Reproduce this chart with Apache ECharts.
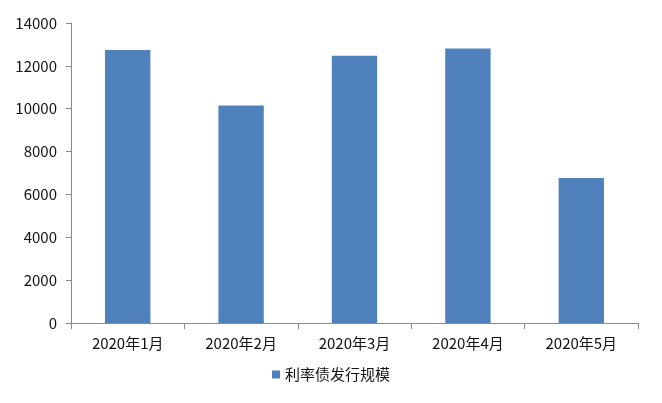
<!DOCTYPE html>
<html><head><meta charset="utf-8">
<script src="https://cdn.jsdelivr.net/npm/echarts@6/dist/echarts.min.js"></script>
<style>html,body{margin:0;padding:0;background:#fff}#c{width:662px;height:403px}</style>
</head><body><div id="c"></div>
<script>
const categories = ['2020年1月','2020年2月','2020年3月','2020年4月','2020年5月'];
const seriesName = '利率债发行规模';
const values = [12740, 10150, 12470, 12810, 6770];
const yTicks = {min: 0, max: 14000, interval: 2000};

const font = '"Noto Sans CJK SC", "Liberation Sans", sans-serif';
const chart = echarts.init(document.getElementById('c'), null, {renderer: 'canvas'});
chart.setOption({
  animation: false,
  backgroundColor: '#fff',
  textStyle: {fontFamily: font},
  grid: {left: 71, right: 24, top: 23, bottom: 80},
  legend: {
    data: [seriesName], bottom: 16, left: 'center',
    icon: 'rect', itemWidth: 8, itemHeight: 8, itemGap: 4,
    textStyle: {fontSize: 15, color: '#111', fontFamily: font}
  },
  xAxis: {
    type: 'category', data: categories,
    axisLine: {lineStyle: {color: '#8a8a8a', width: 1}},
    axisTick: {show: true, length: 6, lineStyle: {color: '#8a8a8a'}},
    axisLabel: {fontSize: 15, color: '#111', margin: 13, fontFamily: font}
  },
  yAxis: {
    type: 'value', min: yTicks.min, max: yTicks.max, interval: yTicks.interval,
    axisLine: {show: true, lineStyle: {color: '#8a8a8a', width: 1}},
    axisTick: {show: true, length: 5, lineStyle: {color: '#8a8a8a'}},
    splitLine: {show: false},
    axisLabel: {fontSize: 15, color: '#111', margin: 14, fontFamily: font,
      formatter: function (v) { return String(v); }}
  },
  series: [{
    name: seriesName, type: 'bar', data: values,
    barWidth: '40%',
    itemStyle: {color: '#4F81BD'}
  }]
});
</script></body></html>
